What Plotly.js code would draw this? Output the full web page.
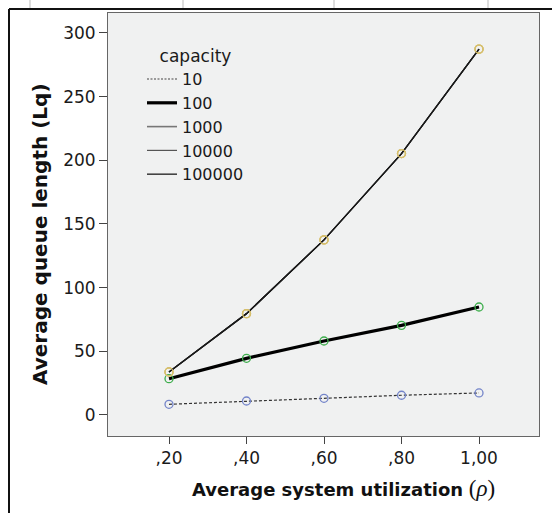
<!DOCTYPE html>
<html>
<head>
<meta charset="utf-8">
<script src="https://cdn.plot.ly/plotly-3.0.1.min.js"></script>
<style>
html,body{margin:0;padding:0;background:#fff;}
#chart{width:552px;height:513px;}
</style>
</head>
<body>
<div id="chart"></div>
<script>
// ---- data ----
const rho = [0.2, 0.4, 0.6, 0.8, 1.0];
const xTickText = [',20', ',40', ',60', ',80', '1,00'];
const yTickVals = [0, 50, 100, 150, 200, 250, 300];
const capacities = ['10', '100', '1000', '10000', '100000'];
const lq10 = [8.4, 11.0, 13.1, 15.5, 17.3];
const lq100 = [28.5, 44.5, 58.1, 70.4, 84.8];
const lq1000 = [33.8, 79.6, 137.5, 205.3, 287.3];
const lq10000 = [33.8, 79.6, 137.5, 205.3, 287.3];
const lq100000 = [33.8, 79.6, 137.5, 205.3, 287.3];
const series = [lq10, lq100, lq1000, lq10000, lq100000];

// ---- styles ----
const W = 552, H = 513;
const M = {l: 108, r: 13, t: 13, b: 77};
const PW = W - M.l - M.r, PH = H - M.t - M.b;
const px = x => (x - M.l) / PW;
const py = y => (H - M.b - y) / PH;

const lineStyles = [
  {color: '#333333', width: 1.2, dash: '3px,2px'},
  {color: '#000000', width: 3.2, dash: 'solid'},
  {color: '#1a1a1a', width: 1.3, dash: 'solid'},
  {color: '#1a1a1a', width: 1.3, dash: 'solid'},
  {color: '#1a1a1a', width: 1.3, dash: 'solid'}
];
const legendLineStyles = [
  {color: '#444444', width: 1.2, dash: '2px,1.5px'},
  {color: '#000000', width: 3.2, dash: 'solid'},
  {color: '#777777', width: 1.6, dash: 'solid'},
  {color: '#555555', width: 1.2, dash: 'solid'},
  {color: '#444444', width: 1.6, dash: 'solid'}
];
const markerColors = ['#7384c9', '#3dae4c', '#d2bc6a', '#d8c070', '#d6bf6c'];

const traces = [];
series.forEach((ys, i) => {
  traces.push({
    x: rho, y: ys, type: 'scatter', mode: 'lines+markers',
    name: capacities[i], showlegend: false,
    line: lineStyles[i],
    marker: {symbol: 'circle-open', size: 8, color: markerColors[i], line: {width: 1.3, color: markerColors[i]}},
    hoverinfo: 'x+y+name'
  });
});
capacities.forEach((c, i) => {
  traces.push({
    x: [null], y: [null], type: 'scatter', mode: 'lines',
    name: c, showlegend: true, line: legendLineStyles[i], hoverinfo: 'skip'
  });
});

const font = 'DejaVu Sans, Liberation Sans, Arial, sans-serif';

const layout = {
  width: W, height: H,
  margin: M,
  paper_bgcolor: '#ffffff',
  plot_bgcolor: '#f0f1f1',
  showlegend: true,
  font: {family: font, size: 17, color: '#1a1a1a'},
  xaxis: {
    range: [0.0426, 1.1548],
    tickmode: 'array', tickvals: rho, ticktext: xTickText,
    ticks: 'outside', ticklen: 7, tickcolor: '#444', tickwidth: 1,
    showgrid: false, zeroline: false,
    showline: true, linecolor: '#666', linewidth: 1, mirror: true,
    tickfont: {family: font, size: 17, color: '#1a1a1a'}
  },
  yaxis: {
    range: [-16.5, 315.7],
    tickmode: 'array', tickvals: yTickVals,
    ticks: 'outside', ticklen: 8, tickcolor: '#444', tickwidth: 1,
    showgrid: false, zeroline: false,
    showline: true, linecolor: '#666', linewidth: 1, mirror: true,
    tickfont: {family: font, size: 17, color: '#1a1a1a'}
  },
  legend: {
    x: px(142), y: py(40), xanchor: 'left', yanchor: 'top',
    bgcolor: 'rgba(0,0,0,0)', borderwidth: 0,
    font: {family: font, size: 16, color: '#1a1a1a'},
    title: {text: 'capacity', side: 'top center', font: {family: font, size: 17, color: '#1a1a1a'}},
    tracegroupgap: 0
  },
  annotations: [
    {
      xref: 'paper', yref: 'paper', x: px(343.5), y: py(488),
      xanchor: 'center', yanchor: 'middle', showarrow: false,
      text: '<b>Average system utilization</b> <span style="font-family:Liberation Serif, serif;font-size:23px">(<i>ρ</i>)</span>',
      font: {family: font, size: 18, color: '#111'}
    },
    {
      xref: 'paper', yref: 'paper', x: px(40), y: py(234),
      xanchor: 'center', yanchor: 'middle', showarrow: false, textangle: -90,
      text: '<b>Average queue length (Lq)</b>',
      font: {family: font, size: 20, color: '#111'}
    }
  ],
  shapes: [
    {type: 'line', xref: 'paper', yref: 'paper', x0: px(9), x1: px(552), y0: py(9), y1: py(9), line: {color: '#111', width: 2}},
    {type: 'line', xref: 'paper', yref: 'paper', x0: px(9), x1: px(9), y0: py(9), y1: py(513), line: {color: '#111', width: 2}},
    {type: 'line', xref: 'paper', yref: 'paper', x0: px(30), x1: px(30), y0: py(0), y1: py(8), line: {color: '#bbb', width: 1}},
    {type: 'line', xref: 'paper', yref: 'paper', x0: px(183), x1: px(183), y0: py(0), y1: py(8), line: {color: '#bbb', width: 1}},
    {type: 'line', xref: 'paper', yref: 'paper', x0: px(334), x1: px(334), y0: py(0), y1: py(8), line: {color: '#bbb', width: 1}},
    {type: 'line', xref: 'paper', yref: 'paper', x0: px(488), x1: px(488), y0: py(0), y1: py(8), line: {color: '#bbb', width: 1}}
  ]
};

Plotly.newPlot('chart', traces, layout, {displayModeBar: false, staticPlot: true});
</script>
</body>
</html>
